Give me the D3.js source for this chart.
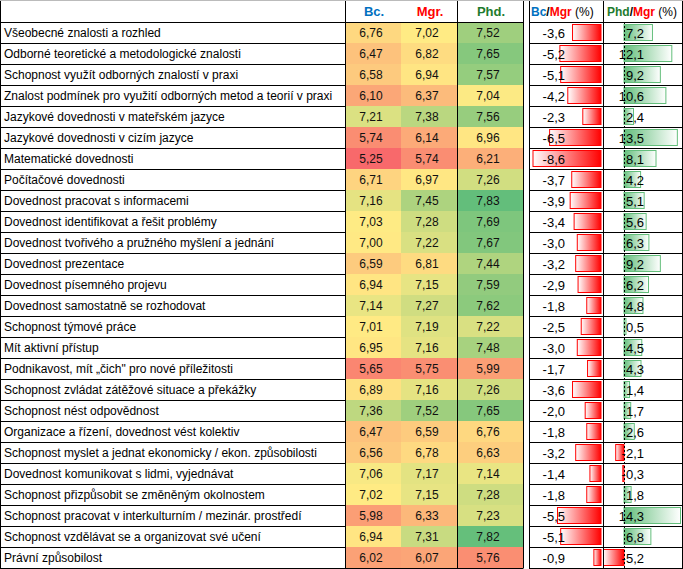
<!DOCTYPE html>
<html><head><meta charset="utf-8">
<script src="https://cdn.jsdelivr.net/npm/d3@7"></script>
<style>body{margin:0;background:#fff}svg{display:block}text{font-family:"Liberation Sans",Arial,sans-serif}</style>
</head><body>
<script>
const labels = ["Všeobecné znalosti a rozhled","Odborné teoretické a metodologické znalosti","Schopnost využít odborných znalostí v praxi","Znalost podmínek pro využití odborných metod a teorií v praxi","Jazykové dovednosti v mateřském jazyce","Jazykové dovednosti v cizím jazyce","Matematické dovednosti","Počítačové dovednosti","Dovednost pracovat s informacemi","Dovednost identifikovat a řešit problémy","Dovednost tvořivého a pružného myšlení a jednání","Dovednost prezentace","Dovednost písemného projevu","Dovednost samostatně se rozhodovat","Schopnost týmové práce","Mít aktivní přístup","Podnikavost, mít „čich\" pro nové příležitosti","Schopnost zvládat zátěžové situace a překážky","Schopnost nést odpovědnost","Organizace a řízení, dovednost vést kolektiv","Schopnost myslet a jednat ekonomicky / ekon. způsobilosti","Dovednost komunikovat s lidmi, vyjednávat","Schopnost přizpůsobit se změněným okolnostem","Schopnost pracovat v interkulturním / mezinár. prostředí","Schopnost vzdělávat se a organizovat své učení","Právní způsobilost"];
const bc  = [6.76,6.47,6.58,6.10,7.21,5.74,5.25,6.71,7.16,7.03,7.00,6.59,6.94,7.14,7.01,6.95,5.65,6.89,7.36,6.47,6.56,7.06,7.02,5.98,6.94,6.02];
const mgr = [7.02,6.82,6.94,6.37,7.38,6.14,5.74,6.97,7.45,7.28,7.22,6.81,7.15,7.27,7.19,7.16,5.75,7.16,7.52,6.59,6.78,7.17,7.15,6.33,7.31,6.07];
const phd = [7.52,7.65,7.57,7.04,7.56,6.96,6.21,7.26,7.83,7.69,7.67,7.44,7.59,7.62,7.22,7.48,5.99,7.26,7.65,6.76,6.63,7.14,7.28,7.23,7.82,5.76];
const bcMgr = [-3.6,-5.2,-5.1,-4.2,-2.3,-6.5,-8.6,-3.7,-3.9,-3.4,-3.0,-3.2,-2.9,-1.8,-2.5,-3.0,-1.7,-3.6,-2.0,-1.8,-3.2,-1.4,-1.8,-5.5,-5.1,-0.9];
const phdMgr = [7.2,12.1,9.2,10.6,2.4,13.5,8.1,4.2,5.1,5.6,6.3,9.2,6.2,4.8,0.5,4.5,4.3,1.4,1.7,2.6,-2.1,-0.3,1.8,14.3,6.8,-5.2];
const scoreHeaders = [{t:"Bc.",c:"#0070C0"},{t:"Mgr.",c:"#FF0000"},{t:"Phd.",c:"#1E7B2E"}];

const W=683,H=569, headH=22, bottom=568;
const svg=d3.select("body").append("svg").attr("width",W).attr("height",H);
const defs=svg.append("defs");
const gr=defs.append("linearGradient").attr("id","gRed");
gr.append("stop").attr("offset","0").attr("stop-color","#fff");
gr.append("stop").attr("offset","1").attr("stop-color","#FF0000");
const gg=defs.append("linearGradient").attr("id","gGreen");
gg.append("stop").attr("offset","0").attr("stop-color","#63BE7B");
gg.append("stop").attr("offset","1").attr("stop-color","#fff");

const y=d3.scaleBand().domain(d3.range(labels.length)).range([headH,bottom]);
const cols={label:[0,345],bc:[345,401],mgr:[401,457],phd:[457,523],bm:[529,603],pm:[603,683]};
const fmt=v=>d3.format(".2f")(v).replace(".",",").replace("\u2212","-");
const fmt1=v=>d3.format(".1f")(v).replace(".",",").replace("\u2212","-");

const all=bc.concat(mgr,phd);
const color=d3.scaleLinear().domain([d3.min(all),d3.quantile(all.slice().sort(d3.ascending),0.5),d3.max(all)]).range(["#F8696B","#FFEB84","#63BE7B"]);

// score cells
const series=[bc,mgr,phd], keys=["bc","mgr","phd"];
series.forEach((s,k)=>{
  const [x0,x1]=cols[keys[k]];
  const g=svg.append("g");
  g.selectAll("rect").data(s).join("rect").attr("x",x0).attr("width",x1-x0).attr("y",(d,i)=>y(i)).attr("height",y.bandwidth()).attr("fill",d=>color(d));
  g.selectAll("text").data(s).join("text").attr("x",(x0+x1)/2-2).attr("y",(d,i)=>y(i)+y.bandwidth()/2+4.5).attr("text-anchor","middle").attr("font-size",12).attr("fill","#111").text(fmt);
  svg.append("text").attr("x",(x0+x1)/2+1).attr("y",16).attr("text-anchor","middle").attr("font-size",13).attr("font-weight","bold").attr("fill",scoreHeaders[k].c).text(scoreHeaders[k].t);
});

// labels
svg.append("g").selectAll("text").data(labels).join("text").attr("x",4).attr("y",(d,i)=>y(i)+y.bandwidth()/2+4.5).attr("font-size",12).attr("fill","#000").text(d=>d);

// Bc/Mgr data bars
const xb=d3.scaleLinear().domain([d3.min(bcMgr),0]).range([533,601]);
svg.append("g").selectAll("rect").data(bcMgr).join("rect").attr("x",d=>xb(d)).attr("width",d=>xb(0)-xb(d)).attr("y",(d,i)=>y(i)+2.5).attr("height",y.bandwidth()-5).attr("fill","url(#gRed)").attr("stroke","#FF0000").attr("stroke-width",1);
svg.append("g").selectAll("text").data(bcMgr).join("text").attr("x",565).attr("y",(d,i)=>y(i)+y.bandwidth()/2+5).attr("text-anchor","end").attr("font-size",13).attr("fill","#000").text(fmt1);

// Phd/Mgr data bars
const xp=d3.scaleLinear().domain([0,d3.max(phdMgr)]).range([624,680.5]);
svg.append("g").selectAll("rect").data(phdMgr).join("rect").attr("x",d=>d>=0?xp(0):xp(d)).attr("width",d=>Math.abs(xp(d)-xp(0))).attr("y",(d,i)=>y(i)+2.5).attr("height",y.bandwidth()-5).attr("fill",d=>d>=0?"url(#gGreen)":"url(#gRed)").attr("stroke",d=>d>=0?"#63BE7B":"#FF0000").attr("stroke-width",1);
svg.append("line").attr("x1",xp(0)+0.5).attr("x2",xp(0)+0.5).attr("y1",headH).attr("y2",bottom).attr("stroke","#000").attr("stroke-dasharray","2,2");
svg.append("g").selectAll("text").data(phdMgr).join("text").attr("x",644).attr("y",(d,i)=>y(i)+y.bandwidth()/2+5).attr("text-anchor","end").attr("font-size",13).attr("fill","#000").text(fmt1);

// headers of bar columns
function hdr(x,parts){
  const t=svg.append("text").attr("x",x).attr("y",16).attr("font-size",12);
  parts.forEach(p=>t.append("tspan").attr("fill",p[1]).attr("font-weight",p[2]?"bold":"normal").text(p[0]));
}
hdr(531,[["Bc","#0070C0",1],["/","#000",1],["Mgr","#FF0000",1],[" (%)","#000",0]]);
hdr(607,[["Phd","#1E7B2E",1],["/","#000",1],["Mgr","#FF0000",1],[" (%)","#000",0]]);

// grid lines
const gl=svg.append("g").attr("stroke","#000").attr("stroke-width",1);
const rowEdges=d3.range(labels.length+1).map(i=>i<labels.length?y(i):bottom);
rowEdges.forEach(v=>{
  gl.append("line").attr("x1",0).attr("x2",345).attr("y1",Math.round(v)+0.5).attr("y2",Math.round(v)+0.5);
  gl.append("line").attr("x1",529).attr("x2",683).attr("y1",Math.round(v)+0.5).attr("y2",Math.round(v)+0.5);
});
gl.append("line").attr("x1",345).attr("x2",523).attr("y1",headH+0.5).attr("y2",headH+0.5);
gl.append("line").attr("x1",345).attr("x2",523).attr("y1",bottom+0.5).attr("y2",bottom+0.5);
[0,345,457,523,529,603,682].forEach(x=>gl.append("line").attr("x1",x+0.5).attr("x2",x+0.5).attr("y1",0).attr("y2",bottom+0.5));
svg.append("line").attr("x1",0).attr("x2",W).attr("y1",0.5).attr("y2",0.5).attr("stroke","#bbb");
</script>
</body></html>
